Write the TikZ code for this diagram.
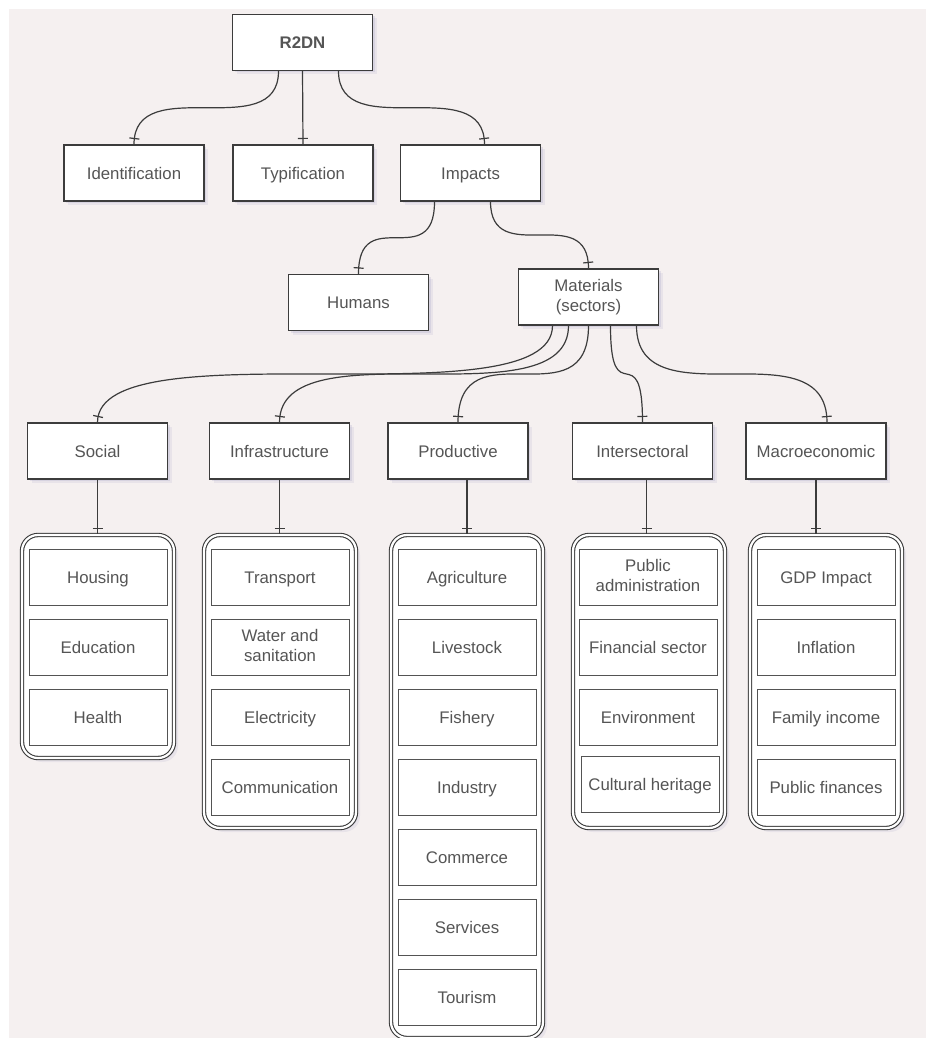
\documentclass[tikz,border=0pt]{standalone}
\usepackage{fontspec}
\setmainfont{Liberation Sans}
\usepackage{tikz}
\usetikzlibrary{shadows,decorations.markings}

\definecolor{bgpink}{RGB}{245,240,240}
\definecolor{boxline}{RGB}{60,60,60}
\definecolor{boxtext}{RGB}{85,85,85}
\definecolor{shade}{RGB}{140,140,185}
\newcommand\boxstrut{\rule[-2pt]{0pt}{10pt}}

\tikzset{
  soft shadow/.style={
    drop shadow={shadow xshift=1pt, shadow yshift=-1pt, fill=shade, opacity=0.18},
    drop shadow={shadow xshift=2pt, shadow yshift=-2pt, fill=shade, opacity=0.12}},
  box/.style={draw=boxline, line width=0.6pt, fill=white, text=boxtext,
    minimum width=70pt, minimum height=28pt, align=center, inner sep=1pt,
    font=\fontsize{8.4}{10}\selectfont,
    execute at begin node=\boxstrut, execute at end node=\boxstrut, soft shadow},
  rootbox/.style={box, font=\fontsize{8.4}{10}\selectfont\bfseries},
  item/.style={draw=gray!65!black, line width=0.5pt, fill=white, text=boxtext,
    minimum width=69pt, minimum height=28pt, align=center, inner sep=1pt,
    font=\fontsize{8.4}{10}\selectfont,
    execute at begin node=\boxstrut, execute at end node=\boxstrut},
  group/.style={draw=boxline, double=white, double distance=1.1pt, line width=0.55pt,
    rounded corners=8pt, fill=white, minimum width=76pt, soft shadow},
  link/.style={draw=boxline, line width=0.6pt,
    decoration={markings, mark=at position -3pt with {\draw[boxline, line width=0.6pt] (0,-2.5pt) -- (0,2.5pt);}},
    postaction=decorate}
}

\begin{document}
\begin{tikzpicture}[x=0.5pt, y=0.5pt]
\useasboundingbox (0,0) rectangle (926,-1038);
\fill [bgpink] (9,-9) rectangle (926,-1038);
% top levels
\node [rootbox] (r2dn) at (302.5,-42.5) {R2DN};
\node [box] (ident) at (134,-173) {Identification};
\node [box] (typif) at (303,-173) {Typification};
\node [box] (impacts) at (470.5,-173) {Impacts};
\node [box] (humans) at (358.5,-302.5) {Humans};
\node [box] (materials) at (588.5,-297) {Materials\\(sectors)};
\node [box] (social) at (97.5,-451) {Social};
\node [box] (infra) at (279.5,-451) {Infrastructure};
\node [box] (productive) at (458,-451) {Productive};
\node [box] (inter) at (642.5,-451) {Intersectoral};
\node [box] (macro) at (816,-451) {Macroeconomic};
% groups
\node [group, minimum height=111.5pt] (socialgrp) at (98,-646.5) {};
\node [group, minimum height=146.5pt] (infragrp) at (280,-681.5) {};
\node [group, minimum height=251.5pt] (prodgrp) at (467,-786.5) {};
\node [group, minimum height=146.5pt] (intergrp) at (649,-681.5) {};
\node [group, minimum height=146.5pt] (macrogrp) at (826,-681.5) {};
% social
\node [item] (housing) at (98,-577) {Housing};
\node [item] (education) at (98,-647) {Education};
\node [item] (health) at (98,-717) {Health};
% infrastructure
\node [item] (transport) at (280,-577) {Transport};
\node [item] (water) at (280,-647) {Water and\\sanitation};
\node [item] (electricity) at (280,-717) {Electricity};
\node [item] (communication) at (280,-787) {Communication};
% productive
\node [item] (agriculture) at (467,-577) {Agriculture};
\node [item] (livestock) at (467,-647) {Livestock};
\node [item] (fishery) at (467,-717) {Fishery};
\node [item] (industry) at (467,-787) {Industry};
\node [item] (commerce) at (467,-857) {Commerce};
\node [item] (services) at (467,-927) {Services};
\node [item] (tourism) at (467,-997) {Tourism};
% intersectoral
\node [item] (publicadmin) at (648,-577) {Public\\administration};
\node [item] (financial) at (648,-647) {Financial sector};
\node [item] (environment) at (648,-717) {Environment};
\node [item] (heritage) at (650,-784) {Cultural heritage};
% macroeconomic
\node [item] (gdp) at (826,-577) {GDP Impact};
\node [item] (inflation) at (826,-647) {Inflation};
\node [item] (income) at (826,-717) {Family income};
\node [item] (finances) at (826,-787) {Public finances};
% links
\draw [link] ([xshift=-12pt]r2dn.south) to[out=-90, in=90, distance=37pt] (ident.north);
\draw [link] (r2dn.south) -- (typif.north);
\draw [link] ([xshift=18pt]r2dn.south) to[out=-90, in=90, distance=37pt] ([xshift=7pt]impacts.north);
\draw [link] ([xshift=-18pt]impacts.south) to[out=-90, in=90, distance=36pt] (humans.north);
\draw [link] ([xshift=10pt]impacts.south) to[out=-90, in=90, distance=34pt] (materials.north);
\draw [link] ([xshift=-18pt]materials.south) to[out=-90, in=90, distance=49pt] (social.north);
\draw [link] ([xshift=-10pt]materials.south) to[out=-90, in=90, distance=49pt] (infra.north);
\draw [link] (materials.south) to[out=-90, in=90, distance=49pt] (productive.north);
\draw [link] ([xshift=11pt]materials.south) to[out=-90, in=90, distance=45pt] (inter.north);
\draw [link] ([xshift=24pt]materials.south) to[out=-90, in=90, distance=49pt] ([xshift=5.5pt]macro.north);
\draw [link] (social.south) -- (social.south |- socialgrp.north);
\draw [link] (infra.south) -- (infra.south |- infragrp.north);
\draw [link] (productive.south -| prodgrp.north) -- (prodgrp.north);
\draw [link] ([xshift=2pt]inter.south) -- ([xshift=2pt]inter.south |- intergrp.north);
\draw [link] (macro.south) -- (macro.south |- macrogrp.north);
\end{tikzpicture}
\end{document}
